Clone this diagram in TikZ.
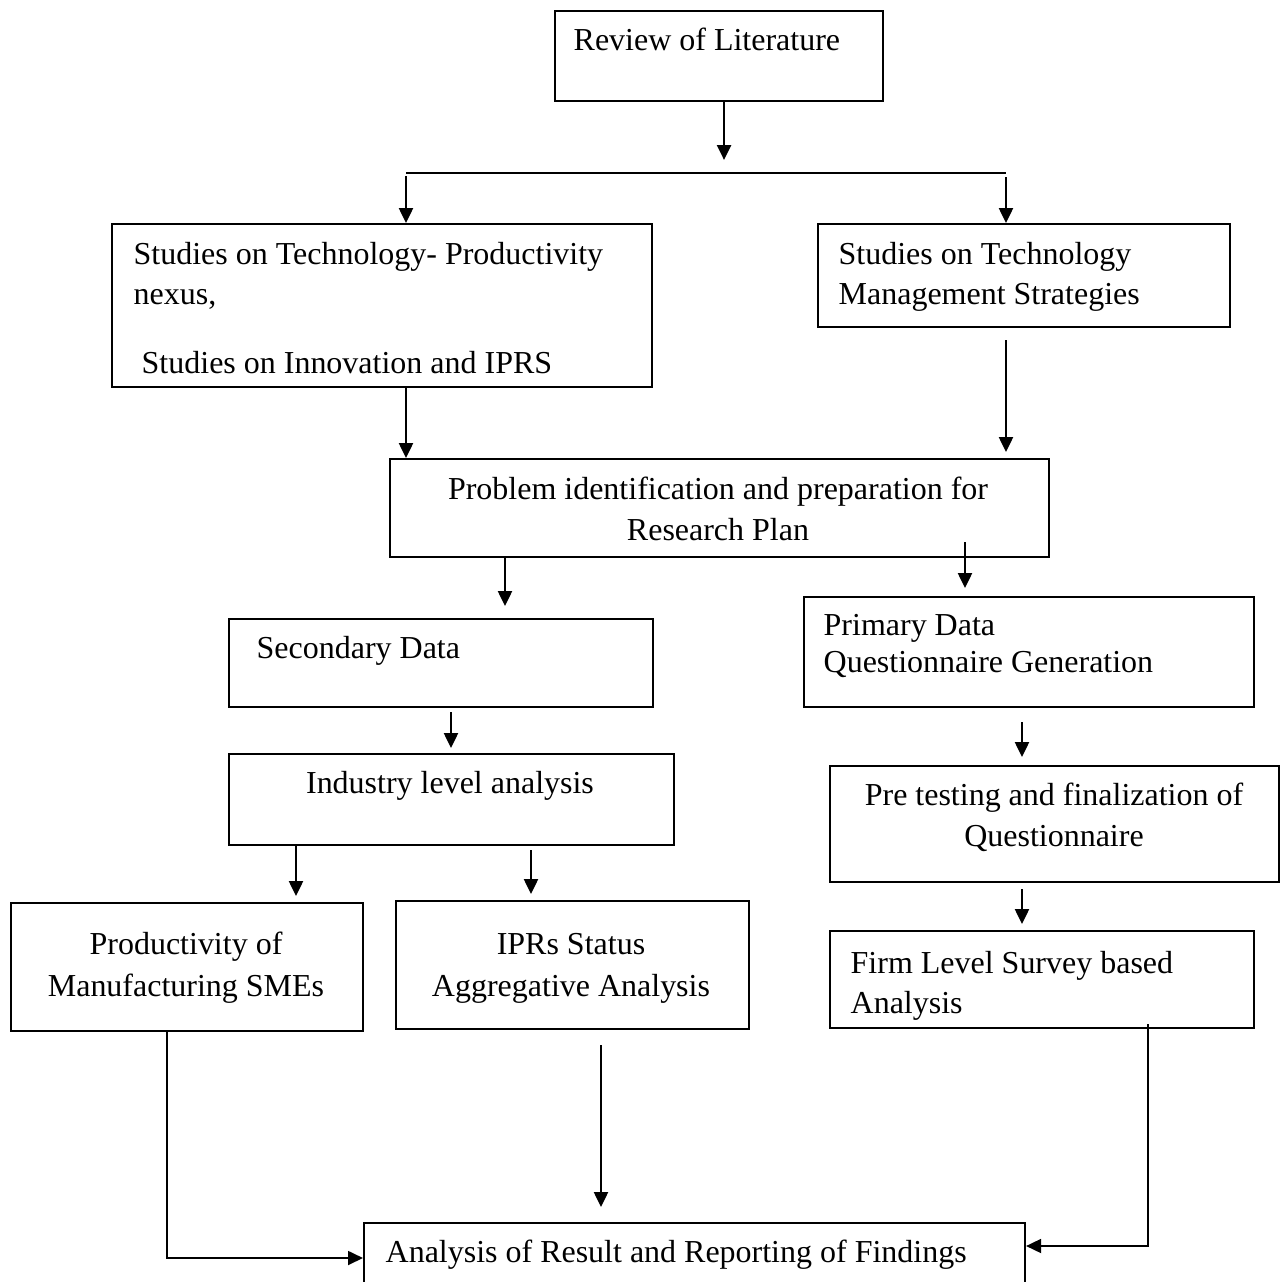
\documentclass[tikz,border=0pt]{standalone}
\usepackage{fontspec}
\setmainfont{Liberation Serif}
\usetikzlibrary{arrows.meta,calc}

\begin{document}
\begin{tikzpicture}[x=0.1mm, y=-0.1mm,
  box/.style={draw, line width=0.6pt, anchor=north west, inner sep=0pt},
  txt/.style={inner sep=0pt, font=\fontsize{9.1}{11}\selectfont},
  ln/.style={line width=0.6pt},
  arr/.style={-{Triangle[length=1.5mm, width=1.4mm]}, line width=0.7pt},
  thinarr/.style={-{Triangle[length=1.5mm, width=1.4mm]}, line width=0.5pt}]
\useasboundingbox (0,0) rectangle (1282,1282);
% boxes
\node[box, minimum width=32.8mm, minimum height=9mm] (rev) at (554,10) {};
\node[box, minimum width=54mm, minimum height=16.3mm] (tpn) at (111,223) {};
\node[box, minimum width=41.2mm, minimum height=10.3mm] (tms) at (817,223) {};
\node[box, minimum width=65.9mm, minimum height=9.8mm] (prob) at (389,458) {};
\node[box, minimum width=42.4mm, minimum height=8.8mm] (sec) at (228,618) {};
\node[box, minimum width=45mm, minimum height=11mm] (prim) at (803,596) {};
\node[box, minimum width=44.5mm, minimum height=9.1mm] (ind) at (228,753) {};
\node[box, minimum width=44.9mm, minimum height=11.6mm] (pre) at (829,765) {};
\node[box, minimum width=35.2mm, minimum height=12.8mm] (prod) at (10,902) {};
\node[box, minimum width=35.3mm, minimum height=12.8mm] (ipr) at (395,900) {};
\node[box, minimum width=42.4mm, minimum height=9.7mm] (firm) at (829,930) {};
\node[box, minimum width=66.1mm, minimum height=8mm] (res) at (363,1222) {};
% texts
\foreach \n/\x/\y/\s in {rev1/573/50/Review of Literature,
    tpn1/133/264/Studies on Technology- Productivity, tpn2/133/304/{nexus,},
    tpn3/141/373/Studies on Innovation and IPRS,
    tms1/838/264/Studies on Technology, tms2/838/304/Management Strategies,
    sec1/256/658/Secondary Data,
    prim1/823/635/Primary Data, prim2/823/672/Questionnaire Generation,
    firm1/850/973/Firm Level Survey based, firm2/850/1013/Analysis,
    res1/385/1262/Analysis of Result and Reporting of Findings}
  \node[txt, anchor=base west] (\n) at (\x,\y) {\s};
\foreach \n/\x/\y/\s in {prob1/718/499/Problem identification and preparation for,
    prob2/718/540/Research Plan,
    ind1/450/793/Industry level analysis,
    pre1/1054/805/Pre testing and finalization of, pre2/1054/846/Questionnaire,
    prod1/186/954/Productivity of, prod2/186/996/Manufacturing SMEs,
    ipr1/571/954/IPRs Status, ipr2/571/996/Aggregative Analysis}
  \node[txt, anchor=base] (\n) at (\x,\y) {\s};
% connectors
\coordinate (spl) at (406,173);
\coordinate (spr) at (1006,173);
\draw[arr, shorten >=1.3mm] ($(rev.south)+(5,0)$) -- ($(rev.south |- spl)+(5,0)$);
\draw[ln] (spl) -- (spr);
\draw[arr] ($(spl)+(0,3)$) -- (spl |- tpn.north);
\draw[arr] ($(spr)+(0,4)$) -- (spr |- tms.north);
\draw[arr] (spl |- tpn.south) -- (spl |- prob.north);
\draw[arr, shorten >=0.6mm] ($(tms.south -| spr)+(0,12)$) -- (prob.north -| spr);
\draw[arr, shorten >=1.2mm] ($(prob.south west)+(116,0)$) -- ($(sec.north west)+(277,0)$);
\draw[arr, shorten >=0.8mm] ($(prob.south west)+(576,-16)$) -- ($(prim.north west)+(162,0)$);
\draw[arr, shorten >=0.5mm] ($(sec.south west)+(223,4)$) -- ($(ind.north west)+(223,0)$);
\draw[arr, shorten >=0.8mm] ($(prim.south west)+(219,14)$) -- ($(pre.north west)+(193,0)$);
\draw[arr, shorten >=0.6mm] ($(ind.south west)+(68,0)$) -- ($(prod.north west)+(286,0)$);
\draw[arr, shorten >=0.6mm] ($(ind.south west)+(303,4)$) -- ($(ipr.north west)+(136,0)$);
\draw[arr, shorten >=0.6mm] ($(pre.south west)+(193,6)$) -- ($(firm.north west)+(193,0)$);
\draw[thinarr] ($(prod.south west)+(157,0)$) |- ($(res.north west)+(0,36)$);
\draw[arr, shorten >=1.5mm] ($(ipr.south west)+(206,15)$) -- ($(res.north west)+(238,0)$);
\draw[thinarr] ($(firm.south west)+(319,-5)$) |- ($(res.north east)+(0,24)$);
\end{tikzpicture}
\end{document}
